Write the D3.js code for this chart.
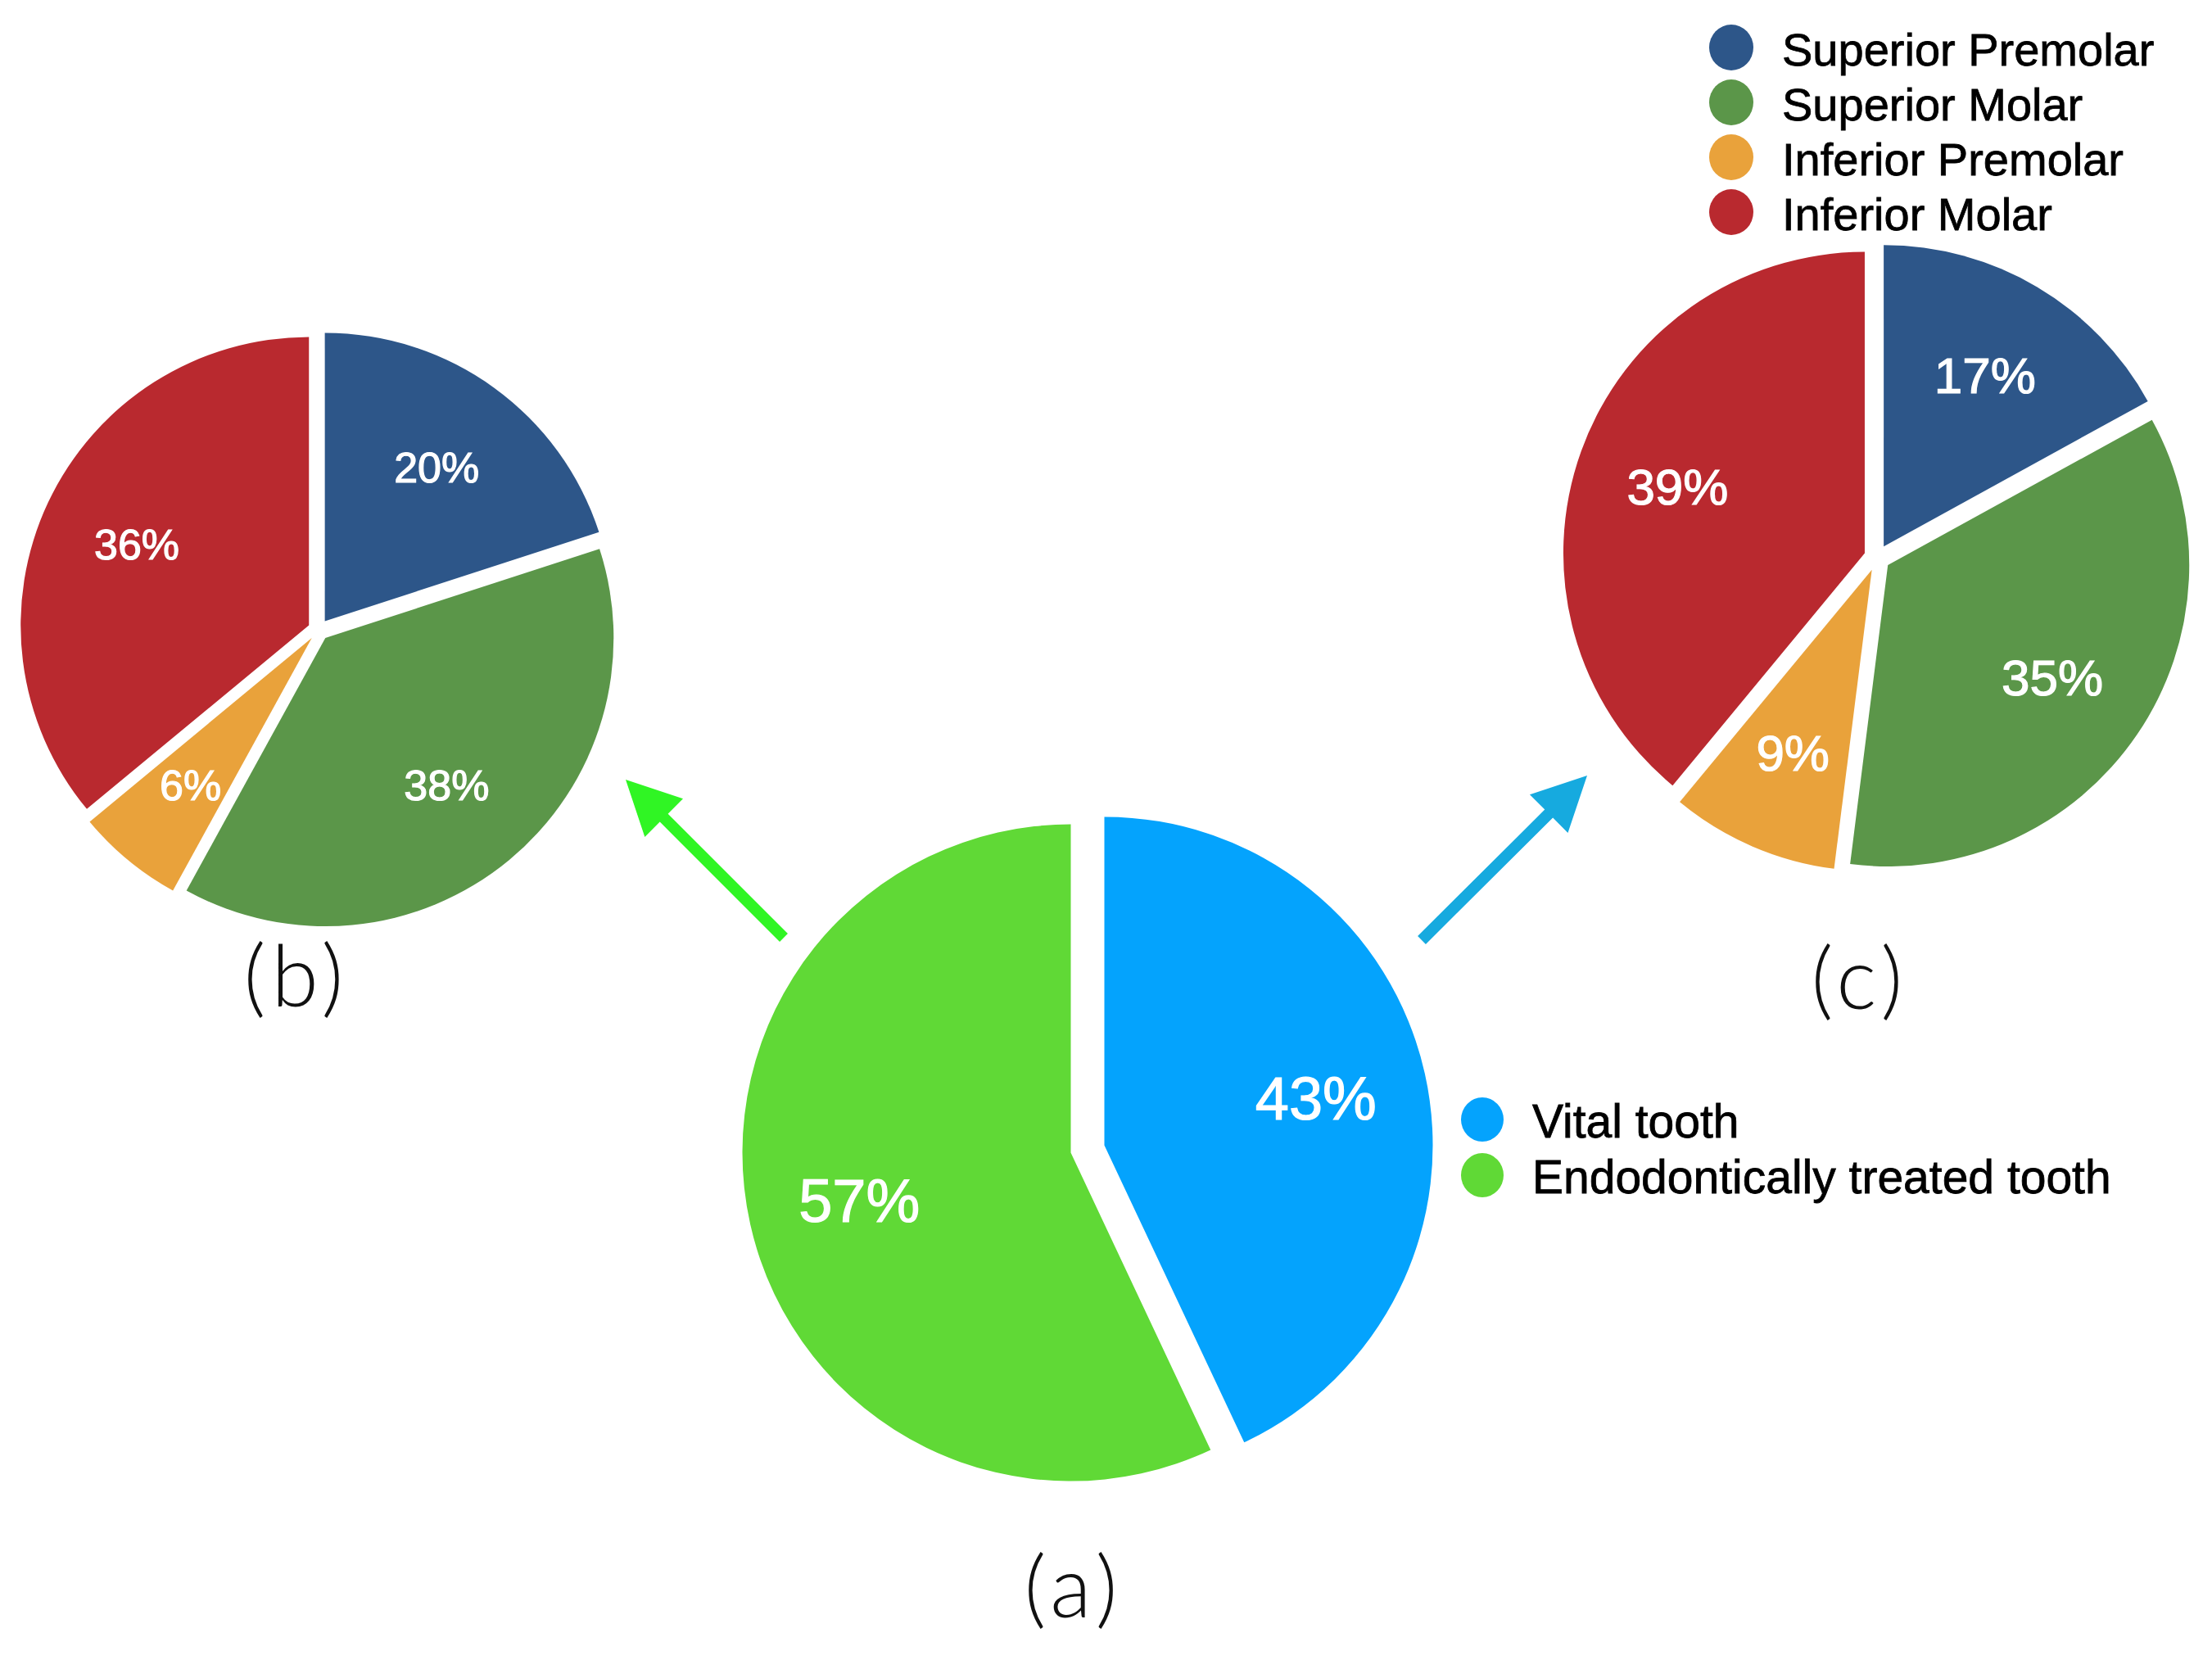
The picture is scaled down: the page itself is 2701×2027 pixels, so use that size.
<!DOCTYPE html>
<html>
<head>
<meta charset="utf-8">
<script src="https://cdn.jsdelivr.net/npm/d3@7"></script>
<style>
  body { margin: 0; background: #fff; }
  svg { display: block; }
</style>
</head>
<body>
<div id="chart"></div>
<script>
const W = 2701, H = 2027

// (a) all teeth
const toothTypes = ["Vital tooth", "Endodontically treated tooth"]
const toothShare = [43, 57]
const toothColors = ["#04a3fd", "#60d936"]

// (b) endodontically treated, (c) vital
const positions = ["Superior Premolar", "Superior Molar", "Inferior Premolar", "Inferior Molar"]
const endoShare = [20, 38, 6, 36]
const vitalShare = [17, 35, 9, 39]
const positionColors = ["#2d5689", "#5b9649", "#e9a23b", "#b9292f"]

const panelNames = ["(a)", "(b)", "(c)"]

const svg = d3.select("#chart").append("svg")
  .attr("width", W)
  .attr("height", H)

svg.append("rect").attr("width", W).attr("height", H).attr("fill", "#fff")

const FONT = "'Liberation Sans', Arial, Helvetica, sans-serif"

function drawPie(values, colors, cx, cy, r, explode, fontSize) {
  const pie = d3.pie().sort(null).value(d => d)
  const arc = d3.arc().innerRadius(0).outerRadius(r)
  const labelArc = d3.arc().innerRadius(r * 0.66).outerRadius(r * 0.66)
  const total = d3.sum(values)

  const g = svg.append("g").attr("transform", "translate(" + cx + "," + cy + ")")

  const slices = g.selectAll("g.slice")
    .data(pie(values))
    .enter()
    .append("g")
      .attr("class", "slice")
      .attr("transform", d => {
        const mid = (d.startAngle + d.endAngle) / 2
        return "translate(" + (Math.sin(mid) * explode) + "," + (-Math.cos(mid) * explode) + ")"
      })

  slices.append("path")
    .attr("d", arc)
    .attr("fill", (_, i) => colors[i])

  slices.append("text")
    .attr("transform", d => "translate(" + labelArc.centroid(d) + ")")
    .attr("text-anchor", "middle")
    .attr("dy", "0.36em")
    .attr("fill", "#fff")
    .attr("stroke", "#fff")
    .attr("stroke-width", 1.2)
    .style("font-family", FONT)
    .style("font-size", fontSize + "px")
    .text(d => Math.round(d.value / total * 100) + "%")
}

drawPie(toothShare, toothColors, 1328, 1403, 401, 21, 74)
drawPie(endoShare, positionColors, 389, 769, 352, 13, 52)
drawPie(vitalShare, positionColors, 2292, 681, 368, 16, 62)

// panel captions
const captionPos = [[1308, 1943], [359, 1197], [2268, 1200]]
svg.selectAll("text.caption")
  .data(panelNames)
  .enter()
  .append("text")
    .attr("class", "caption")
    .attr("x", (_, i) => captionPos[i][0] + 3)
    .attr("y", (_, i) => captionPos[i][1])
    .attr("text-anchor", "middle")
    .attr("dy", "0.31em")
    .style("font-family", "Lato, 'Noto Sans', sans-serif")
    .style("font-weight", 300)
    .style("font-size", "104px")
    .style("letter-spacing", "7px")
    .attr("fill", "#111")
    .text(d => d)

// legends
function drawLegend(labels, colors, x, y, step, r, fontSize) {
  const g = svg.append("g").attr("transform", "translate(" + x + "," + y + ")")
  const items = g.selectAll("g")
    .data(labels)
    .enter()
    .append("g")
      .attr("transform", (_, i) => "translate(0," + i * step + ")")
  items.append("ellipse")
    .attr("rx", r)
    .attr("ry", r + 1)
    .attr("fill", (_, i) => colors[i])
  items.append("text")
    .attr("x", r + 35)
    .attr("y", 22)
    .style("font-family", FONT)
    .style("font-size", fontSize + "px")
    .attr("fill", "#000")
    .attr("stroke", "#000")
    .attr("stroke-width", 0.8)
    .text(d => d)
}

drawLegend(toothTypes, toothColors, 1810, 1367, 68, 26, 57)
drawLegend(positions, positionColors, 2114, 58, 67, 27, 56)

// arrows from (a) to the two breakdowns
function arrow(x1, y1, x2, y2, color) {
  const len = Math.hypot(x2 - x1, y2 - y1)
  const ux = (x2 - x1) / len, uy = (y2 - y1) / len
  const px = -uy, py = ux
  const shaft = 7, headL = 66, headW = 33
  const bx = x2 - ux * headL, by = y2 - uy * headL
  const pts = [
    [x1 + px * shaft, y1 + py * shaft],
    [bx + px * shaft, by + py * shaft],
    [bx + px * headW, by + py * headW],
    [x2, y2],
    [bx - px * headW, by - py * headW],
    [bx - px * shaft, by - py * shaft],
    [x1 - px * shaft, y1 - py * shaft]
  ]
  svg.append("polygon")
    .attr("points", pts.map(p => p.join(",")).join(" "))
    .attr("fill", color)
}

arrow(957, 1145, 764, 952, "#30f524")
arrow(1736, 1148, 1938, 947, "#16aadf")
</script>
</body>
</html>
